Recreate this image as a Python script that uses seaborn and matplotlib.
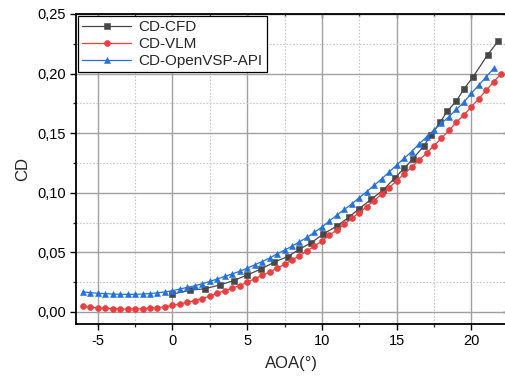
import matplotlib
matplotlib.use('Agg')
import matplotlib.pyplot as plt
from matplotlib.ticker import MultipleLocator, FuncFormatter
import numpy as np
import seaborn as sns

# -------------------- DATA --------------------
cfd_aoa = [0.0, 1.2, 2.2, 3.2, 4.1, 5.0, 5.9, 6.8, 7.7, 8.5, 9.3, 10.1, 11.0, 11.8, 12.5,
           13.3, 14.1, 14.9, 15.5, 16.1, 16.8, 17.3, 17.9, 18.4, 19.0, 19.5, 20.1, 21.1, 21.8]
cfd_cd = [0.0150, 0.0182, 0.0195, 0.0227, 0.0263, 0.0310, 0.0358, 0.0417, 0.0464, 0.0526,
          0.0582, 0.0654, 0.0721, 0.0794, 0.0867, 0.0945, 0.1023, 0.1127, 0.1205, 0.1286,
          0.1390, 0.1485, 0.1590, 0.1686, 0.1770, 0.1870, 0.1970, 0.2160, 0.2273]

vlm_aoa = np.arange(-6.0, 22.01, 0.5)
vlm_cd = [0.0046, 0.0040, 0.0034, 0.0030, 0.0027, 0.0025, 0.0024, 0.0025, 0.0027, 0.0031,
          0.0036, 0.0044, 0.0055, 0.0066, 0.0080, 0.0095, 0.0112, 0.0132, 0.0156, 0.0178,
          0.0199, 0.0221, 0.0249, 0.0278, 0.0306, 0.0335, 0.0366, 0.0400, 0.0435, 0.0472,
          0.0511, 0.0553, 0.0594, 0.0643, 0.0688, 0.0735, 0.0786, 0.0833, 0.0884, 0.0934,
          0.0990, 0.1043, 0.1099, 0.1158, 0.1214, 0.1274, 0.1332, 0.1395, 0.1457, 0.1524,
          0.1591, 0.1653, 0.1720, 0.1790, 0.1860, 0.1932, 0.2000]

vsp_aoa = np.arange(-6.0, 21.51, 0.5)
vsp_cd = [0.0168, 0.0162, 0.0157, 0.0153, 0.0150, 0.0148, 0.0147, 0.0148, 0.0150, 0.0154,
          0.0160, 0.0168, 0.0178, 0.0192, 0.0206, 0.0219, 0.0236, 0.0256, 0.0276, 0.0298,
          0.0319, 0.0341, 0.0366, 0.0395, 0.0422, 0.0452, 0.0487, 0.0518, 0.0552, 0.0588,
          0.0625, 0.0668, 0.0712, 0.0763, 0.0812, 0.0860, 0.0906, 0.0959, 0.1009, 0.1063,
          0.1116, 0.1174, 0.1233, 0.1289, 0.1345, 0.1410, 0.1468, 0.1527, 0.1583, 0.1638,
          0.1700, 0.1759, 0.1835, 0.1904, 0.1974, 0.2044]

series = [
    ('CD-CFD', cfd_aoa, cfd_cd, '#474747', 's', 3.9),
    ('CD-VLM', vlm_aoa, vlm_cd, '#ef3d3d', 'o', 4.3),
    ('CD-OpenVSP-API', vsp_aoa, vsp_cd, '#2171e2', '^', 4.7),
]

# -------------------- STYLE --------------------
sns.set_style('ticks')
plt.rcParams['font.family'] = ['Liberation Sans', 'DejaVu Sans']
plt.rcParams['axes.unicode_minus'] = False

fig = plt.figure(figsize=(5.05, 3.78), dpi=100)
ax = fig.add_axes([0.1505, 0.143, 0.8525, 0.820])

for label, x, y, color, marker, ms in series:
    sns.lineplot(x=x, y=y, ax=ax, color=color, marker=marker, markersize=ms,
                 markeredgecolor=color, markeredgewidth=0.4, linewidth=0.9,
                 label=label, zorder=3)

ax.set_xlim(-6.45, 22.35)
ax.set_ylim(-0.0101, 0.25)

ax.xaxis.set_major_locator(MultipleLocator(5))
ax.xaxis.set_minor_locator(MultipleLocator(2.5))
ax.yaxis.set_major_locator(MultipleLocator(0.05))
ax.yaxis.set_minor_locator(MultipleLocator(0.025))
ax.yaxis.set_major_formatter(FuncFormatter(lambda v, p: f'{v:.2f}'.replace('.', ',')))
ax.xaxis.set_major_formatter(FuncFormatter(lambda v, p: f'{v:.0f}'))

ax.set_axisbelow(True)
ax.grid(which='major', color='#a0a0a0', linewidth=1.0, linestyle='-')
ax.grid(which='minor', color='#c8c8c8', linewidth=0.8, linestyle=(0, (1.5, 1.5)))

for side in ['left', 'bottom', 'top', 'right']:
    ax.spines[side].set_visible(True)
    ax.spines[side].set_color('black')
    ax.spines[side].set_linewidth(1.3)

ax.tick_params(which='major', direction='out', length=4, width=1.0, labelsize=10.5,
               colors='black', pad=3)
ax.tick_params(which='minor', direction='out', length=2.2, width=0.9)

# inward ticks on top and right, no labels
top = ax.secondary_xaxis('top')
top.xaxis.set_major_locator(MultipleLocator(5))
top.xaxis.set_minor_locator(MultipleLocator(2.5))
top.tick_params(which='major', direction='in', length=3, width=1.0, labeltop=False)
top.tick_params(which='minor', direction='in', length=2, width=0.9)
right = ax.secondary_yaxis('right')
right.yaxis.set_major_locator(MultipleLocator(0.05))
right.yaxis.set_minor_locator(MultipleLocator(0.025))
right.tick_params(which='major', direction='in', length=3, width=1.0, labelright=False)
right.tick_params(which='minor', direction='in', length=2, width=0.9)

ax.set_xlabel('AOA(°)', fontsize=12, labelpad=6)
ax.set_ylabel('CD', fontsize=12, labelpad=5)

leg = ax.legend(loc='upper left', fontsize=11, frameon=True, fancybox=False,
                edgecolor='black', framealpha=1, borderaxespad=0.15, handlelength=3.2,
                labelspacing=0.2, borderpad=0.25, handletextpad=0.5)
leg.get_frame().set_linewidth(0.9)

fig.savefig('out.png', dpi=100)
